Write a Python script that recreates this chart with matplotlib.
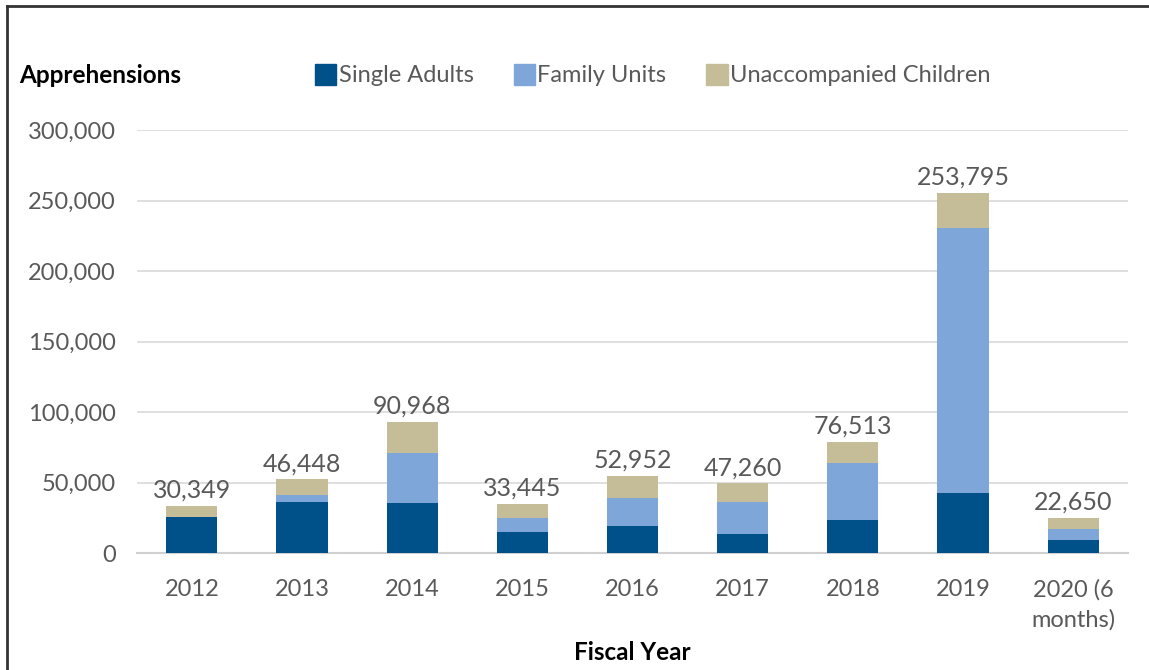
import numpy as np
import matplotlib
matplotlib.use("Agg")
from matplotlib import pyplot as plt
from matplotlib.lines import Line2D
from matplotlib.patches import Patch

years = ['2012', '2013', '2014', '2015', '2016', '2017', '2018', '2019', '2020 (6\nmonths)']
single_adults = [25300, 36400, 35700, 14700, 19150, 13470, 23750, 42700, 9100]
family_units = [500, 4750, 35000, 10350, 20070, 22900, 40200, 187900, 8100]
unaccompanied = [7500, 11100, 22400, 9700, 15600, 13050, 14900, 24800, 7800]
total_labels = ['30,349', '46,448', '90,968', '33,445', '52,952', '47,260', '76,513', '253,795', '22,650']

c_single = '#00508A'
c_family = '#7EA6D8'
c_child = '#C4BD97'
grey = '#595959'

plt.rcParams['font.family'] = ['Lato', 'DejaVu Sans']

fig = plt.figure(figsize=(11.49, 6.7), dpi=100)
ax = fig.add_axes([0.119, 0.1746, 0.863, 0.631])

x = np.arange(len(years))
w = 0.465
s = np.array(single_adults)
f = np.array(family_units)
u = np.array(unaccompanied)
ax.bar(x, s, w, color=c_single, zorder=3)
ax.bar(x, f, w, bottom=s, color=c_family, zorder=3)
ax.bar(x, u, w, bottom=s + f, color=c_child, zorder=3)

for xi, top, lab in zip(x, s + f + u, total_labels):
    ax.text(xi, top + 3000, lab, ha='center', va='bottom', fontsize=18, color=grey)

ax.set_xlim(-0.5, len(years) - 0.5)
ax.set_ylim(0, 300000)
ax.set_yticks(range(0, 300001, 50000))
ax.set_yticklabels(['{:,}'.format(v) for v in range(0, 300001, 50000)])
ax.set_xticks(x)
ax.set_xticklabels(years, linespacing=1.45)
ax.tick_params(axis='both', length=0, labelsize=17, labelcolor=grey)
ax.tick_params(axis='y', pad=15)
ax.tick_params(axis='x', pad=19)
ax.grid(axis='y', color='#D9D9D9', linewidth=1.2, zorder=0)
for sp in ['top', 'right', 'left']:
    ax.spines[sp].set_visible(False)
ax.spines['bottom'].set_color('#D0D0D0')
ax.spines['bottom'].set_linewidth(1.5)

fig.text(0.017, 0.888, 'Apprehensions', fontsize=17.5, fontweight='bold', color='black', va='center')
fig.text(0.55, 0.026, 'Fiscal Year', fontsize=17.5, fontweight='bold', color='black', ha='center', va='center')

handles = [Patch(color=c_single), Patch(color=c_family), Patch(color=c_child)]
fig.legend(handles, ['Single Adults', 'Family Units', 'Unaccompanied Children'],
           loc='center', bbox_to_anchor=(0.568, 0.888), ncol=3, frameon=False,
           fontsize=17, labelcolor=grey, handlelength=0.9, handleheight=1.0,
           handletextpad=0.1, columnspacing=1.7)

# outer frame (top and left only)
fig.add_artist(Line2D([0.006, 1.0], [0.991, 0.991], color='#333333', linewidth=2, transform=fig.transFigure))
fig.add_artist(Line2D([0.0065, 0.0065], [0.0, 0.991], color='#333333', linewidth=2, transform=fig.transFigure))

fig.savefig('out.png', dpi=100)
